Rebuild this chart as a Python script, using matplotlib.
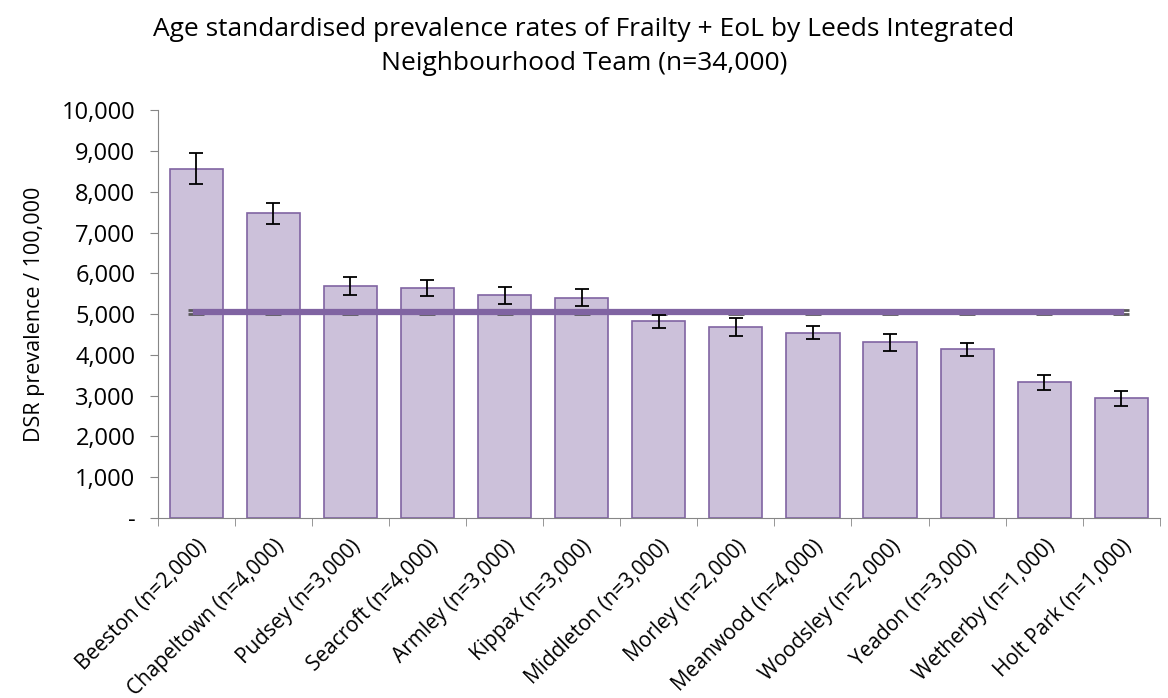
import matplotlib.pyplot as plt
import matplotlib.transforms as mtransforms
import numpy as np

plt.rcParams['font.family'] = ['Open Sans', 'DejaVu Sans']

teams = ['Beeston (n=2,000)', 'Chapeltown (n=4,000)', 'Pudsey (n=3,000)',
         'Seacroft (n=4,000)', 'Armley (n=3,000)', 'Kippax (n=3,000)',
         'Middleton (n=3,000)', 'Morley (n=2,000)', 'Meanwood (n=4,000)',
         'Woodsley (n=2,000)', 'Yeadon (n=3,000)', 'Wetherby (n=1,000)',
         'Holt Park (n=1,000)']
dsr = [8570, 7470, 5690, 5640, 5460, 5400, 4820, 4690, 4540, 4310, 4135, 3325, 2940]
ci = [370, 250, 220, 185, 210, 210, 170, 225, 160, 205, 155, 188, 185]
leeds_avg = [5057] * len(teams)
leeds_ci = [45] * len(teams)

fig = plt.figure(figsize=(11.68, 6.98), dpi=100)
ax = fig.add_axes([0.135, 0.258, 0.858, 0.584])

x = np.arange(len(teams))
ax.bar(x, dsr, width=0.69, color='#CCC1DA', edgecolor='#8064A2', linewidth=1.2, zorder=2)
ax.errorbar(x, dsr, yerr=ci, fmt='none', ecolor='black', elinewidth=1.3,
            capsize=5, capthick=1.3, zorder=4)
ax.errorbar(x, leeds_avg, yerr=leeds_ci, color='#8064A2', linewidth=4.5,
            ecolor='#595959', elinewidth=0.8, capsize=5.5, capthick=2, zorder=3)

ax.set_xlim(-0.5, len(teams) - 0.5)
ax.set_ylim(0, 10000)
ax.set_yticks(range(0, 10001, 1000))
ax.set_yticklabels(['-'] + ['{:,}'.format(v) for v in range(1000, 10001, 1000)], fontsize=17)
ax.set_xticks(x)
ax.set_xticklabels(teams, rotation=45, ha='right', rotation_mode='anchor', fontsize=15)
ax.set_xticks(np.arange(-0.5, len(teams)), minor=True)
ax.tick_params(axis='x', which='major', length=0, pad=13)
ax.tick_params(axis='x', which='minor', length=6, color='#868686')
ax.tick_params(axis='y', length=6, color='#868686', pad=10)

# nudge labels so they end just past the bar centres
offset = mtransforms.ScaledTranslation(0.0, 0, fig.dpi_scale_trans)
for lbl in ax.get_xticklabels():
    lbl.set_transform(lbl.get_transform() + offset)

for s in ['top', 'right']:
    ax.spines[s].set_visible(False)
ax.spines['left'].set_color('#868686')
ax.spines['bottom'].set_color('#868686')

ax.set_ylabel('DSR prevalence / 100,000', fontsize=15.5, labelpad=12)
fig.suptitle('Age standardised prevalence rates of Frailty + EoL by Leeds Integrated\nNeighbourhood Team (n=34,000)',
             fontsize=19, x=0.5, y=0.975, linespacing=1.45)

fig.savefig('out.png', dpi=100)
